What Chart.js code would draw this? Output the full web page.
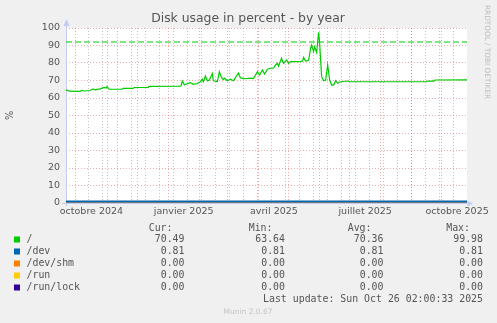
<!DOCTYPE html>
<html><head><meta charset="utf-8">
<script src="https://cdn.jsdelivr.net/npm/chart.js@4"></script>
<style>html,body{margin:0;padding:0;background:#F0F0F0;}canvas{display:block;}</style>
</head><body>
<canvas id="c" width="497" height="323"></canvas>
<script>
// ---- data (x = days since start of the 400-day window) ----
const rootDays = [0,1,3,14,16,18,24,27,29,34,38,40,41,43,56,57,67,68,82,83,114,115,116,118,124,127,131,134,136,137,139,141,143,146,147,151,153,155,157,158,161,164,167,172,174,179,184,187,189,191,193,196,198,201,204,207,209,211,212,215,217,220,222,224,234,236,237,239,242,244,245,247,248,250,252,253,255,257,259,261,263,265,267,269,271,274,281,284,359,361,367,368,400];
const rootValues = [64.2,64.6,63.9,63.8,64.4,64.0,64.3,65.2,64.6,65.2,66.0,65.7,66.6,65.0,65.0,65.5,65.5,66.0,66.1,66.6,66.7,67.2,69.7,67.6,68.8,67.8,68.3,69.3,70.7,69.3,72.6,69.8,70.3,73.9,69.8,69.4,75.0,71.8,70.5,71.3,69.9,70.7,69.9,74.3,71.5,71.0,71.3,71.1,73.1,75.0,73.1,76.0,73.7,76.4,77.0,77.0,78.9,79.8,78.2,82.7,79.8,81.7,79.8,80.8,80.8,81.1,83.2,81.1,81.5,88.4,90.3,86.5,89.3,86.0,97.5,91.2,72.2,69.9,70.3,78.9,70.3,67.4,67.4,69.9,68.4,69.3,69.7,69.3,69.3,69.7,69.7,70.3,70.4];
const flatDays = [0, 400];
const devValues = [0.81, 0.81];
const shmValues = [0, 0];
const runValues = [0, 0];
const runLockValues = [0, 0];
const warningValue = 92;

const monthStartDays = [9.9,40.9,70.9,101.9,132.9,160.9,191.9,221.9,252.9,282.9,313.9,344.9,374.9];
const minorDays = [22.9,36.9,50.9,64.9,78.9,92.9,106.9,120.9,134.9,148.9,162.9,176.9,190.9,204.9,218.9,232.9,246.9,260.9,274.9,288.9,302.9,316.9,330.9,344.9,358.9,372.9,386.9];
const labelDays = [25.4,117.4,207.4,298.4,390.1];
const labelTexts = ['octobre 2024','janvier 2025','avril 2025','juillet 2025','octobre 2025'];

const legendLabels = ['/','/dev','/dev/shm','/run','/run/lock'];
const legendColors = ['#00CC00','#0066B3','#FF8000','#FFCC00','#330099'];
const curValues = ['70.49','0.81','0.00','0.00','0.00'];
const minValues = ['63.64','0.81','0.00','0.00','0.00'];
const avgValues = ['70.36','0.81','0.00','0.00','0.00'];
const maxValues = ['99.98','0.81','0.00','0.00','0.00'];
const lastUpdate = 'Last update: Sun Oct 26 02:00:33 2025';

// ---- helpers ----
const pts = (xs, ys) => xs.map((x, i) => ({x, y: ys[i]}));
const SANS = '"DejaVu Sans", sans-serif';
const MONO = '"DejaVu Sans Mono", monospace';
const GRID_MINOR = 'rgba(150,150,150,0.55)';
const GRID_MAJOR = 'rgba(225,90,90,0.5)';
const AXIS = '#C4CCF4';

const decor = {
  id: 'decor',
  beforeDraw(chart) {
    const {ctx, chartArea: a} = chart;
    ctx.save();
    ctx.fillStyle = '#F0F0F0';
    ctx.fillRect(0, 0, chart.width, chart.height);
    ctx.fillStyle = '#FFFFFF';
    ctx.fillRect(a.left, a.top, a.right - a.left, a.bottom - a.top);
    ctx.restore();
  },
  beforeDatasetsDraw(chart) {
    const {ctx, chartArea: a} = chart;
    ctx.save();
    ctx.strokeStyle = AXIS; ctx.fillStyle = AXIS; ctx.lineWidth = 1;
    ctx.beginPath();
    ctx.moveTo(a.left + 0.5, a.bottom + 3); ctx.lineTo(a.left + 0.5, a.top - 4);
    ctx.moveTo(a.left - 4, a.bottom + 0.5); ctx.lineTo(a.right + 2, a.bottom + 0.5);
    ctx.stroke();
    ctx.beginPath();
    ctx.moveTo(a.left + 0.5, a.top - 9); ctx.lineTo(a.left - 2.5, a.top - 2); ctx.lineTo(a.left + 3.5, a.top - 2); ctx.closePath();
    ctx.moveTo(a.right + 6, a.bottom + 0.5); ctx.lineTo(a.right + 0.5, a.bottom - 2.5); ctx.lineTo(a.right + 0.5, a.bottom + 3.5); ctx.closePath();
    ctx.fill();
    ctx.restore();
  },
  afterDraw(chart) {
    const {ctx, chartArea: a} = chart;
    ctx.save();
    // title
    ctx.fillStyle = '#555';
    ctx.font = '12.4px ' + SANS;
    ctx.textAlign = 'center'; ctx.textBaseline = 'middle';
    ctx.fillText('Disk usage in percent - by year', 248, 19);
    // y unit label
    ctx.save();
    ctx.translate(10, (a.top + a.bottom) / 2);
    ctx.rotate(-Math.PI / 2);
    ctx.font = '9.7px ' + SANS;
    ctx.fillText('%', 0, 0);
    ctx.restore();
    // right watermark
    ctx.save();
    ctx.translate(487, 52);
    ctx.rotate(Math.PI / 2);
    ctx.fillStyle = '#BDBDBD';
    ctx.font = '7.3px ' + SANS;
    ctx.fillText('RRDTOOL / TOBI OETIKER', 0, 0);
    ctx.restore();
    // legend table
    ctx.font = '9.9px ' + MONO;
    ctx.fillStyle = '#555';
    ctx.textBaseline = 'middle';
    ctx.textAlign = 'right';
    const hy = 228.5;
    ctx.fillText('Cur:', 172.5, hy);
    ctx.fillText('Min:', 272.5, hy);
    ctx.fillText('Avg:', 371.5, hy);
    ctx.fillText('Max:', 470, hy);
    for (let i = 0; i < legendLabels.length; i++) {
      const y = 239.5 + i * 12;
      ctx.fillStyle = legendColors[i];
      ctx.fillRect(14, y - 3, 6, 6);
      ctx.fillStyle = '#555';
      ctx.textAlign = 'left';
      ctx.fillText(legendLabels[i], 26.5, y);
      ctx.textAlign = 'right';
      ctx.fillText(curValues[i], 184.5, y);
      ctx.fillText(minValues[i], 285, y);
      ctx.fillText(avgValues[i], 383.5, y);
      ctx.fillText(maxValues[i], 483, y);
    }
    ctx.fillText(lastUpdate, 483, 299.5);
    ctx.textAlign = 'center';
    ctx.fillStyle = '#C4C4C4';
    ctx.font = '7.5px ' + SANS;
    ctx.fillText('Munin 2.0.67', 248, 312.5);
    ctx.restore();
  }
};

const line = (label, data, color, order, extra) => Object.assign({
  label, data, borderColor: color, backgroundColor: color,
  borderWidth: 1.2, pointRadius: 0, tension: 0, fill: false, order
}, extra || {});

new Chart(document.getElementById('c'), {
  type: 'line',
  data: {
    datasets: [
      line('warning', pts(flatDays, [warningValue, warningValue]), '#00CC00', 6, {borderDash: [6, 3], borderWidth: 1.2}),
      line('/run/lock', pts(flatDays, runLockValues), legendColors[4], 5),
      line('/run', pts(flatDays, runValues), legendColors[3], 4),
      line('/dev/shm', pts(flatDays, shmValues), legendColors[2], 3),
      line('/', pts(rootDays, rootValues), legendColors[0], 1),
      line('/dev', pts(flatDays, devValues), legendColors[1], 0, {borderWidth: 2})
    ]
  },
  options: {
    responsive: false,
    animation: false,
    devicePixelRatio: 1,
    layout: {padding: {left: 0, top: 28, right: 30, bottom: 100}},
    plugins: {legend: {display: false}, tooltip: {enabled: false}, title: {display: false}},
    scales: {
      x: {
        type: 'linear', min: 0, max: 400,
        afterFit: s => { s.height = 20; },
        afterBuildTicks: s => {
          s.ticks = minorDays.map(v => ({value: v, kind: 'minor'}))
            .concat(monthStartDays.map(v => ({value: v, kind: 'major'})))
            .concat(labelDays.map((v, i) => ({value: v, kind: 'label', text: labelTexts[i]})));
        },
        ticks: {
          autoSkip: false, maxRotation: 0, minRotation: 0, padding: 3,
          color: '#555', font: {family: SANS, size: 9.5},
          callback: (v, i, ticks) => ticks[i].kind === 'label' ? ticks[i].text : ''
        },
        grid: {
          drawTicks: false,
          lineWidth: 1,
          color: c => c.tick.kind === 'label' ? 'rgba(0,0,0,0)' : (c.tick.kind === 'major' ? GRID_MAJOR : GRID_MINOR)
        },
        border: {display: false, dash: [1, 2]}
      },
      y: {
        min: 0, max: 100,
        afterFit: s => { s.width = 66; },
        afterBuildTicks: s => {
          const t = [];
          for (let v = 0; v <= 100; v += 5) t.push({value: v});
          s.ticks = t;
        },
        ticks: {
          padding: 6, color: '#555', font: {family: SANS, size: 9.5},
          callback: v => (v % 10 === 0 ? String(v) : '')
        },
        grid: {
          drawTicks: false, lineWidth: 1,
          color: c => (c.tick.value % 10 === 0 ? GRID_MAJOR : GRID_MINOR)
        },
        border: {display: false, dash: [1, 2]}
      }
    }
  },
  plugins: [decor]
});
</script>
</body></html>
